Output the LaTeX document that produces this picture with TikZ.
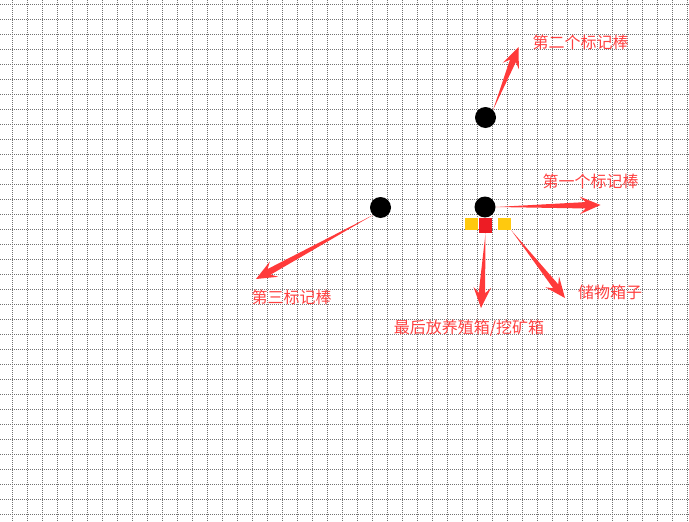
\documentclass[tikz,border=0pt]{standalone}
\usepackage{fontspec}
\setmainfont{Noto Sans CJK SC}
\usetikzlibrary{calc}
\definecolor{arrowred}{RGB}{255,58,58}
\definecolor{labelred}{RGB}{255,64,64}
\definecolor{boxgold}{RGB}{255,201,14}
\definecolor{boxred}{RGB}{237,28,36}

\begin{document}
\begin{tikzpicture}[x=1pt,y=-1pt]
\tikzstyle{every node}=[font=\fontsize{16}{19}\selectfont]
\tikzstyle{gridline}=[black!55, line width=0.75pt, dash pattern=on 1pt off 1pt]
\tikzstyle{marker}=[circle, fill=black, minimum size=21pt, inner sep=0pt]
\tikzstyle{chest}=[rectangle, fill=boxgold, minimum width=13pt, minimum height=12pt, inner sep=0pt]
\tikzstyle{crate}=[rectangle, fill=boxred, minimum width=13pt, minimum height=15pt, inner sep=0pt]
\tikzstyle{signtext}=[text=labelred, inner sep=0pt]
\tikzstyle{taper}=[fill=arrowred, to path={(\tikztostart) -- ($(\tikztotarget)!15.3pt!12:(\tikztostart)$) -- ($(\tikztotarget)!22.3pt!23:(\tikztostart)$) -- (\tikztotarget) -- ($(\tikztotarget)!22.3pt!-23:(\tikztostart)$) -- ($(\tikztotarget)!15.3pt!-12:(\tikztostart)$) -- cycle}]

\useasboundingbox (0,0) rectangle (689,522);
\fill[white] (0,0) rectangle (689,522);

\foreach \x in {12.3,27.3,...,688}
	\draw[gridline] (\x,0) -- (\x,522);
\foreach \y in {4.3,19.3,...,522}
	\draw[gridline] (0,\y) -- (689,\y);

\node[chest] (lbox) at (471.5,224) {};
\node[crate] (cbox) at (485.5,225.5) {};
\node[chest] (rbox) at (504.5,224) {};
\node[marker] (m1) at (485,207) {};
\node[marker] (m2) at (485.5,117.5) {};
\node[marker] (m3) at (380.5,207.5) {};

\coordinate (t1) at (600.5,205);
\coordinate (t2) at (518.5,47);
\coordinate (t3) at (256,279);
\coordinate (t4) at (481,308);
\coordinate (t5) at (565,298);

\path[taper] (m1.east) to (t1);
\path[taper] (m2.north east) to (t2);
\path[taper] (m3.south west) to (t3);
\path[taper] (cbox.south) to (t4);
\path[taper] (rbox.south east) to (t5);

\node[signtext] (s1) at (590.5,181) {第一个标记棒};
\node[signtext] (s2) at (580.5,42.5) {第二个标记棒};
\node[signtext] (s3) at (291.5,297.5) {第三标记棒};
\node[signtext] (s4) at (469,328) {最后放养殖箱/挖矿箱};
\node[signtext] (s5) at (610,292) {储物箱子};

\end{tikzpicture}
\end{document}
